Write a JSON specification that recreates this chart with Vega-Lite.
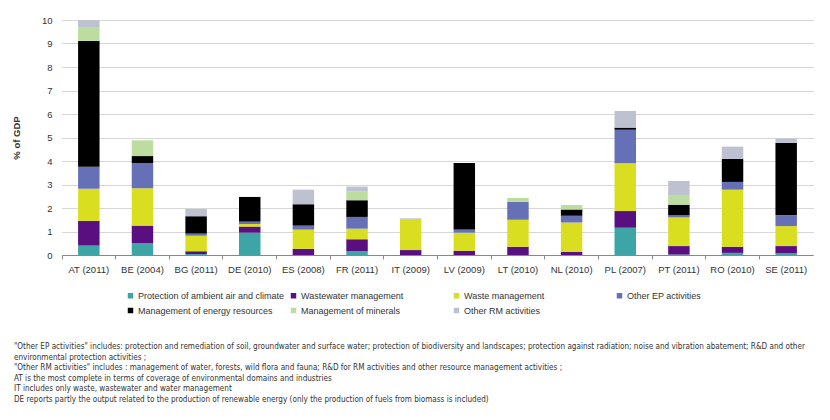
{
  "$schema": "https://vega.github.io/schema/vega-lite/v6.json",
  "width": 751,
  "height": 235,
  "autosize": "none",
  "padding": {"left": 62, "top": 20, "right": 17, "bottom": 165},
  "background": "white",
  "config": {"view": {"stroke": null}, "font": "Liberation Sans"},
  "title": {
    "text": [
      "\"Other EP activities\" includes: protection and remediation of soil, groundwater and surface water; protection of biodiversity and landscapes; protection against radiation; noise and vibration abatement; R&D and other",
      "environmental protection activities ;",
      "\"Other RM activities\" includes : management of water, forests, wild flora and fauna; R&D for RM activities and other resource management activities ;",
      "AT  is the most complete in terms of coverage of environmental domains and industries",
      "IT includes only waste, wastewater and water management",
      "DE reports partly the output related to the production of renewable energy (only the production of fuels from biomass is included)"
    ],
    "orient": "bottom",
    "anchor": "start",
    "frame": "group",
    "dx": -48,
    "offset": 27,
    "font": "DejaVu Sans Condensed",
    "fontSize": 8.1,
    "fontWeight": "normal",
    "lineHeight": 10.5,
    "color": "#333333"
  },
  "data": {
    "values": [
      {"country": "AT (2011)", "Protection of ambient air and climate": 0.40, "Wastewater management": 1.05, "Waste management": 1.37, "Other EP activities": 0.94, "Management of energy resources": 5.35, "Management of minerals": 0.56, "Other RM activities": 0.33},
      {"country": "BE (2004)", "Protection of ambient air and climate": 0.51, "Wastewater management": 0.74, "Waste management": 1.59, "Other EP activities": 1.07, "Management of energy resources": 0.30, "Management of minerals": 0.67, "Other RM activities": 0},
      {"country": "BG (2011)", "Protection of ambient air and climate": 0.04, "Wastewater management": 0.12, "Waste management": 0.66, "Other EP activities": 0.09, "Management of energy resources": 0.74, "Management of minerals": 0, "Other RM activities": 0.31},
      {"country": "DE (2010)", "Protection of ambient air and climate": 0.95, "Wastewater management": 0.26, "Waste management": 0.11, "Other EP activities": 0.10, "Management of energy resources": 1.05, "Management of minerals": 0, "Other RM activities": 0},
      {"country": "ES (2008)", "Protection of ambient air and climate": 0, "Wastewater management": 0.26, "Waste management": 0.82, "Other EP activities": 0.17, "Management of energy resources": 0.91, "Management of minerals": 0, "Other RM activities": 0.62},
      {"country": "FR (2011)", "Protection of ambient air and climate": 0.16, "Wastewater management": 0.51, "Waste management": 0.45, "Other EP activities": 0.50, "Management of energy resources": 0.71, "Management of minerals": 0.37, "Other RM activities": 0.21},
      {"country": "IT (2009)", "Protection of ambient air and climate": 0, "Wastewater management": 0.21, "Waste management": 1.32, "Other EP activities": 0, "Management of energy resources": 0, "Management of minerals": 0, "Other RM activities": 0.03},
      {"country": "LV (2009)", "Protection of ambient air and climate": 0, "Wastewater management": 0.18, "Waste management": 0.77, "Other EP activities": 0.14, "Management of energy resources": 2.82, "Management of minerals": 0, "Other RM activities": 0},
      {"country": "LT (2010)", "Protection of ambient air and climate": 0, "Wastewater management": 0.35, "Waste management": 1.15, "Other EP activities": 0.76, "Management of energy resources": 0, "Management of minerals": 0.17, "Other RM activities": 0},
      {"country": "NL (2010)", "Protection of ambient air and climate": 0, "Wastewater management": 0.13, "Waste management": 1.25, "Other EP activities": 0.29, "Management of energy resources": 0.27, "Management of minerals": 0.19, "Other RM activities": 0},
      {"country": "PL (2007)", "Protection of ambient air and climate": 1.16, "Wastewater management": 0.71, "Waste management": 2.04, "Other EP activities": 1.42, "Management of energy resources": 0.09, "Management of minerals": 0, "Other RM activities": 0.71},
      {"country": "PT (2011)", "Protection of ambient air and climate": 0.02, "Wastewater management": 0.36, "Waste management": 1.22, "Other EP activities": 0.09, "Management of energy resources": 0.45, "Management of minerals": 0.41, "Other RM activities": 0.60},
      {"country": "RO (2010)", "Protection of ambient air and climate": 0.09, "Wastewater management": 0.26, "Waste management": 2.43, "Other EP activities": 0.33, "Management of energy resources": 0.98, "Management of minerals": 0, "Other RM activities": 0.52},
      {"country": "SE (2011)", "Protection of ambient air and climate": 0.07, "Wastewater management": 0.31, "Waste management": 0.85, "Other EP activities": 0.47, "Management of energy resources": 3.07, "Management of minerals": 0, "Other RM activities": 0.19}
    ]
  },
  "transform": [
    {"fold": ["Protection of ambient air and climate", "Wastewater management", "Waste management", "Other EP activities", "Management of energy resources", "Management of minerals", "Other RM activities"], "as": ["category", "value"]},
    {"calculate": "indexof(['Protection of ambient air and climate', 'Wastewater management', 'Waste management', 'Other EP activities', 'Management of energy resources', 'Management of minerals', 'Other RM activities'], datum.category)", "as": "stackOrder"}
  ],
  "mark": {"type": "bar", "width": {"band": 0.4}},
  "encoding": {
    "x": {
      "field": "country", "type": "nominal", "sort": null,
      "scale": {"paddingInner": 0, "paddingOuter": 0},
      "axis": {
        "title": null, "labelAngle": 0, "labelFontSize": 9.5, "labelColor": "#333333",
        "labelPadding": 5, "domainColor": "#888888", "tickColor": "#888888", "tickSize": 4,
        "bandPosition": 0, "labelOffset": 0, "grid": false
      }
    },
    "y": {
      "field": "value", "type": "quantitative", "stack": "zero",
      "scale": {"domain": [0, 10], "nice": false},
      "axis": {
        "title": "% of GDP", "titleFontSize": 9.5, "titleFontWeight": "bold", "titleColor": "#333333",
        "titlePadding": 20, "values": [0, 1, 2, 3, 4, 5, 6, 7, 8, 9, 10],
        "labelFontSize": 9.5, "labelColor": "#333333", "labelPadding": 10,
        "domain": false, "ticks": false, "grid": true, "gridColor": "#999999", "gridDash": [1, 1], "gridWidth": 0.8
      }
    },
    "color": {
      "field": "category", "type": "nominal",
      "sort": ["Protection of ambient air and climate", "Wastewater management", "Waste management", "Other EP activities", "Management of energy resources", "Management of minerals", "Other RM activities"],
      "scale": {
        "domain": ["Protection of ambient air and climate", "Wastewater management", "Waste management", "Other EP activities", "Management of energy resources", "Management of minerals", "Other RM activities"],
        "range": ["#3DA5A6", "#5A0F80", "#D9DE21", "#6670B6", "#000000", "#BCDCA0", "#BEC1CF"]
      },
      "legend": {
        "title": null, "orient": "none", "legendX": 64, "legendY": 271, "direction": "horizontal",
        "columns": 4, "gridAlign": "all", "columnPadding": 4, "rowPadding": 5,
        "symbolType": "square", "symbolSize": 30, "symbolStrokeWidth": 0, "symbolOffset": 0,
        "labelFontSize": 9, "labelColor": "#333333", "labelOffset": 3, "labelLimit": 300
      }
    },
    "order": {"field": "stackOrder", "type": "quantitative", "sort": "ascending"}
  }
}
